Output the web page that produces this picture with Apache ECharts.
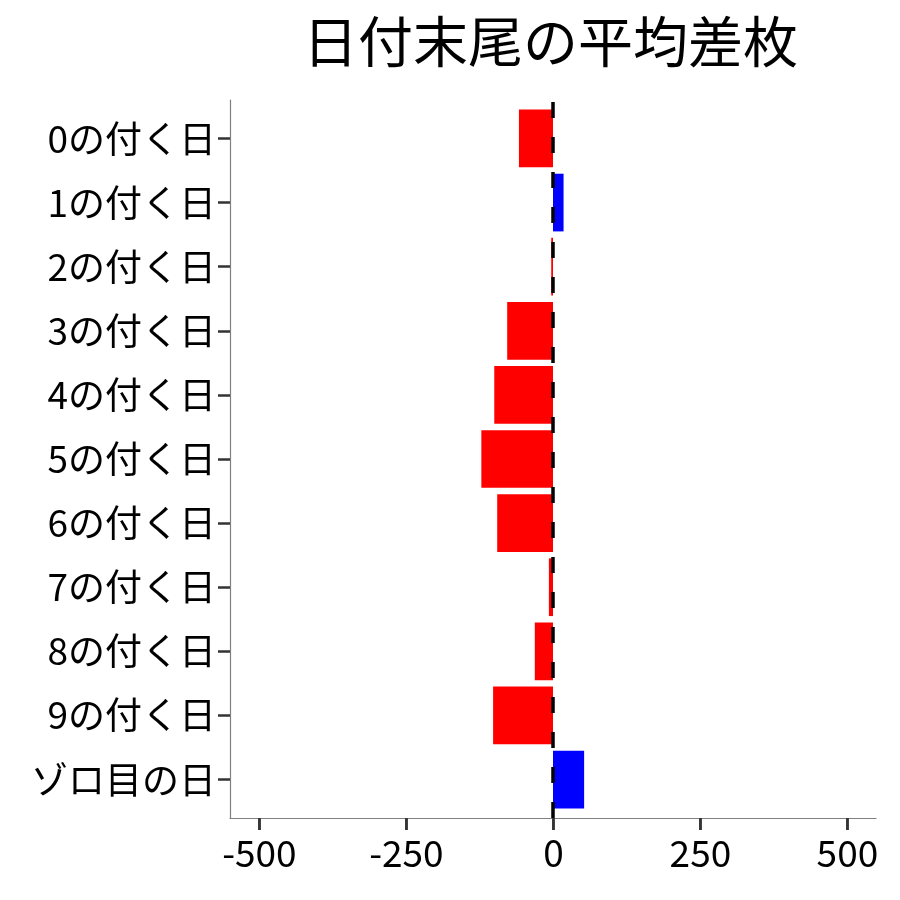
<!DOCTYPE html>
<html>
<head>
<meta charset="utf-8">
<script src="https://cdn.jsdelivr.net/npm/echarts@6/dist/echarts.min.js"></script>
<style>
html,body{margin:0;padding:0;background:#fff;}
#chart{width:900px;height:900px;}
</style>
</head>
<body>
<div id="chart"></div>
<script>
const titleText = '日付末尾の平均差枚';
const categories = ['0の付く日','1の付く日','2の付く日','3の付く日','4の付く日','5の付く日','6の付く日','7の付く日','8の付く日','9の付く日','ゾロ目の日'];
const values = [-58, 18, -3, -78, -100, -122, -95, -7, -31, -102, 53];
const xTickLabels = ['-500', '-250', '0', '250', '500'];

const FONT = '"Noto Sans CJK JP", "Noto Sans", sans-serif';
const chart = echarts.init(document.getElementById('chart'), null, {renderer: 'canvas'});

chart.setOption({
  animation: false,
  backgroundColor: '#ffffff',
  title: {
    text: titleText,
    left: 298,
    top: 9,
    textStyle: {fontFamily: FONT, fontSize: 55, fontWeight: 'normal', color: '#000'}
  },
  grid: [
    {left: 230, right: 24, top: 106.4, bottom: 88.4, containLabel: false},
    {left: 230, right: 24, top: 100, bottom: 82, containLabel: false},
    {left: 259.4, right: 52.6, top: 100, bottom: 82, containLabel: false}
  ],
  xAxis: [
    {gridIndex: 0, type: 'value', min: -550, max: 550, show: false},
    {
      gridIndex: 1, type: 'value', min: -550, max: 550,
      axisLine: {show: true, onZero: false, lineStyle: {color: '#808080', width: 1.2}},
      axisTick: {show: false}, axisLabel: {show: false}, splitLine: {show: false}
    },
    {
      gridIndex: 2, type: 'category', data: xTickLabels, boundaryGap: false,
      axisLine: {show: true, onZero: false, lineStyle: {color: '#808080', width: 1.2}},
      axisTick: {show: true, interval: 0, alignWithLabel: true, length: 12, lineStyle: {color: '#333', width: 2.5}},
      axisLabel: {show: true, interval: 0, margin: 16, fontFamily: FONT, fontSize: 37, color: '#000'},
      splitLine: {show: false}
    }
  ],
  yAxis: [
    {
      gridIndex: 0, type: 'category', data: categories, inverse: true,
      axisLine: {show: false, onZero: false},
      axisTick: {show: true, alignWithLabel: true, length: 12, lineStyle: {color: '#333', width: 2.5}},
      axisLabel: {show: true, margin: 14, fontFamily: FONT, fontSize: 37, color: '#000'},
      splitLine: {show: false}
    },
    {
      gridIndex: 1, type: 'value', min: 0, max: 1,
      axisLine: {show: true, onZero: false, lineStyle: {color: '#808080', width: 1.2}},
      axisTick: {show: false}, axisLabel: {show: false}, splitLine: {show: false}
    },
    {
      gridIndex: 2, type: 'value', min: 0, max: 1, show: false
    }
  ],
  series: [
    {
      type: 'bar',
      xAxisIndex: 0, yAxisIndex: 0,
      barWidth: '90%',
      data: values.map(v => ({value: v, itemStyle: {color: v < 0 ? '#FF0000' : '#0000FF'}})),
      z: 2
    },
    {
      type: 'line',
      xAxisIndex: 1, yAxisIndex: 1,
      data: [],
      z: 5,
      markLine: {
        silent: true,
        symbol: ['none', 'none'],
        label: {show: false},
        z: 10,
        lineStyle: {color: '#000', width: 3.5, type: [16, 19], dashOffset: 0},
        data: [{xAxis: 0}]
      }
    },
    {
      type: 'custom',
      xAxisIndex: 2, yAxisIndex: 2,
      clip: false,
      silent: true,
      z: 6,
      data: xTickLabels.map((t, i) => [i, 0]),
      renderItem: function (params, api) {
        const p = api.coord([api.value(0), api.value(1)]);
        return {
          type: 'line',
          shape: {x1: p[0], y1: p[1] + 0.5, x2: p[0], y2: p[1] + 12},
          style: {stroke: '#333', lineWidth: 2.5}
        };
      }
    }
  ]
});
</script>
</body>
</html>
